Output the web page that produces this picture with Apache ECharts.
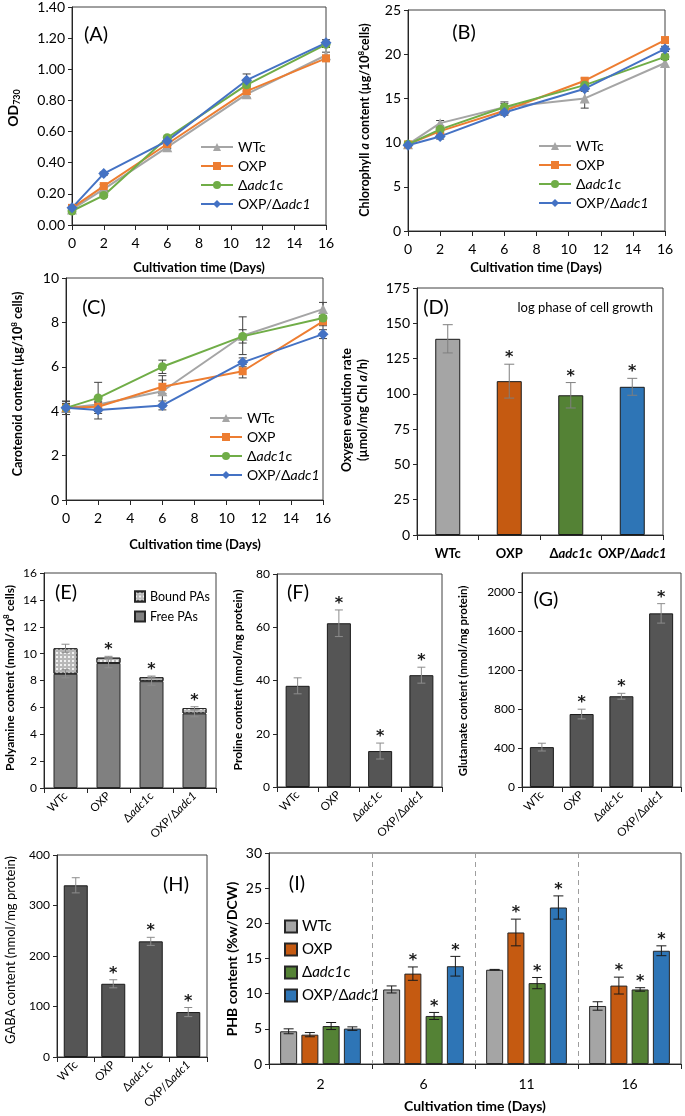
<!DOCTYPE html>
<html><head><meta charset="utf-8">
<script src="https://cdn.jsdelivr.net/npm/echarts@6/dist/echarts.min.js"></script>
<style>html,body{margin:0;padding:0;background:#fff}#c{width:685px;height:1116px}</style>
</head><body><div id="c"></div>
<script>
// ---------- DATA ----------
const days = [0, 2, 6, 11, 16];
const strains = ['WTc', 'OXP', 'Δadc1c', 'OXP/Δadc1'];
const xTicksLine = [0, 16, 2];            // min, max, interval for A-C day axes
// (A) OD730
const odWTc    = [0.10, 0.23, 0.50, 0.84, 1.09];
const odOXP    = [0.11, 0.25, 0.52, 0.86, 1.07];
const odADC    = [0.09, 0.19, 0.56, 0.90, 1.16];
const odOXPADC = [0.11, 0.33, 0.54, 0.93, 1.17];
const odErrWTc    = [0.01, 0.01, 0.01, 0.02, 0.02];
const odErrOXP    = [0.01, 0.01, 0.01, 0.02, 0.02];
const odErrADC    = [0.01, 0.01, 0.01, 0.02, 0.02];
const odErrOXPADC = [0.01, 0.01, 0.02, 0.04, 0.02];
// (B) Chlorophyll a
const chlWTc    = [9.8, 12.2, 14.0, 15.0, 19.0];
const chlOXP    = [9.8, 11.3, 13.6, 17.0, 21.6];
const chlADC    = [9.8, 11.5, 14.0, 16.5, 19.7];
const chlOXPADC = [9.7, 10.7, 13.4, 16.1, 20.6];
const chlErrWTc    = [0.3, 0.3, 0.6, 1.1, 0.4];
const chlErrOXP    = [0.3, 0.3, 0.3, 0.3, 0.3];
const chlErrADC    = [0.3, 0.3, 0.4, 0.3, 0.3];
const chlErrOXPADC = [0.3, 0.3, 0.3, 0.3, 0.3];
// (C) Carotenoid
const carWTc    = [4.15, 4.3, 4.9, 7.4, 8.6];
const carOXP    = [4.15, 4.2, 5.1, 5.8, 8.05];
const carADC    = [4.15, 4.6, 6.0, 7.37, 8.2];
const carOXPADC = [4.15, 4.05, 4.26, 6.2, 7.47];
const carErrWTc    = [0.3, 0.3, 0.7, 0.85, 0.3];
const carErrOXP    = [0.2, 0.2, 0.3, 0.3, 0.2];
const carErrADC    = [0.3, 0.7, 0.3, 0.3, 0.2];
const carErrOXPADC = [0.2, 0.4, 0.2, 0.2, 0.2];
// (D) Oxygen evolution rate
const o2Mean = [139, 109, 99, 105];
const o2Err  = [10, 12, 9, 6];
const o2Sig  = [0, 1, 1, 1];
// (E) Polyamines
const paFree     = [8.5, 9.3, 7.95, 5.55];
const paBound    = [1.9, 0.4, 0.3, 0.4];
const paFreeErr  = [0.3, 0.35, 0.3, 0.25];
const paTotalErr = [0.3, 0.1, 0.08, 0.1];
const paSig      = [0, 1, 1, 1];
// (F) Proline
const proMean = [38, 61.5, 13.5, 42];
const proErr  = [3, 5, 3, 3];
const proSig  = [0, 1, 1, 1];
// (G) Glutamate
const gluMean = [410, 750, 933, 1785];
const gluErr  = [40, 50, 30, 100];
const gluSig  = [0, 1, 1, 1];
// (H) GABA
const gabaMean = [340, 145, 229, 89];
const gabaErr  = [15, 8, 8, 9];
const gabaSig  = [0, 1, 1, 1];
// (I) PHB
const phbDays = ['2', '6', '11', '16'];
const phbWTc    = [4.65, 10.6, 13.4, 8.25];
const phbOXP    = [4.17, 12.85, 18.7, 11.15];
const phbADC    = [5.4, 6.83, 11.5, 10.6];
const phbOXPADC = [5.03, 13.9, 22.25, 16.1];
const phbErrWTc    = [0.35, 0.5, 0.05, 0.6];
const phbErrOXP    = [0.3, 0.95, 1.9, 1.2];
const phbErrADC    = [0.5, 0.5, 0.8, 0.25];
const phbErrOXPADC = [0.25, 1.4, 1.65, 0.7];
const phbSigWTc    = [0, 0, 0, 0];
const phbSigOXP    = [0, 1, 1, 1];
const phbSigADC    = [0, 1, 1, 1];
const phbSigOXPADC = [0, 1, 1, 1];

// ---------- STYLE ----------
const FONT = 'Lato, "Noto Sans", sans-serif';
const lineCol = ['#a5a5a5', '#ed7d31', '#70ad47', '#4472c4'];
const barCol = ['#a5a5a5', '#c55a11', '#548235', '#2e75b6'];
const symbols = ['triangle', 'rect', 'circle', 'diamond'];
const symSizes = [10, 8, 9, 11];
const AX = '#262626';

function richStyles(fs, weight) {
  const base = {fontSize: fs, fontFamily: FONT, fontWeight: weight, color: '#000'};
  return {
    n: Object.assign({}, base),
    i: Object.assign({}, base, {fontStyle: 'italic'}),
    sup: Object.assign({}, base, {fontSize: Math.round(fs * 0.65), verticalAlign: 'top'}),
    sub: Object.assign({}, base, {fontSize: Math.round(fs * 0.65), verticalAlign: 'bottom'})
  };
}
function richName(s) {
  return s.split('adc1').map(p => p ? '{n|' + p + '}' : '').join('{i|adc1}');
}

function errRender(off, cap, color) {
  return function (params, api) {
    const x = api.value(0), y = api.value(1), e = api.value(2), sig = api.value(3);
    const lo = api.coord([x, y - e]), hi = api.coord([x, y + e]);
    const cx = lo[0] + off;
    const st = {stroke: color, lineWidth: 1};
    const ch = [];
    if (e > 0) {
      ch.push({type: 'line', shape: {x1: cx, y1: lo[1], x2: cx, y2: hi[1]}, style: st});
      ch.push({type: 'line', shape: {x1: cx - cap, y1: hi[1], x2: cx + cap, y2: hi[1]}, style: st});
      ch.push({type: 'line', shape: {x1: cx - cap, y1: lo[1], x2: cx + cap, y2: lo[1]}, style: st});
    }
    if (sig) ch.push({type: 'text', style: {text: '*', x: cx, y: hi[1] + 2, align: 'center', verticalAlign: 'bottom', font: 'bold 16px "DejaVu Sans", ' + FONT, fill: '#1a1a1a'}});
    return {type: 'group', children: ch};
  };
}

// ---------- LAYOUT ----------
const grids = [
  {left: 72, top: 7, width: 254, height: 218},    // A
  {left: 408, top: 10, width: 257, height: 221},  // B
  {left: 66, top: 278, width: 257, height: 222},  // C
  {left: 417, top: 288, width: 246, height: 247}, // D
  {left: 44, top: 573, width: 172, height: 215},  // E
  {left: 277, top: 574, width: 165, height: 213}, // F
  {left: 522, top: 573, width: 159, height: 214}, // G
  {left: 57, top: 855, width: 150, height: 202},  // H
  {left: 269, top: 853, width: 412, height: 211}  // I
].map(g => Object.assign({show: true, borderColor: '#404040', borderWidth: 1, containLabel: false, outerBoundsMode: 'none'}, g));

const axLine = {show: true, lineStyle: {color: AX, width: 1}};
function valX(i) {
  return {type: 'value', gridIndex: i, min: xTicksLine[0], max: xTicksLine[1], interval: xTicksLine[2],
    axisLine: axLine, axisTick: {show: true, length: 5, lineStyle: {color: AX}},
    axisLabel: {fontFamily: FONT, fontSize: 14, color: '#000', margin: 11}, splitLine: {show: false}};
}
function valY(i, min, max, interval, fs, fmt) {
  return {type: 'value', gridIndex: i, min: min, max: max, interval: interval,
    axisLine: axLine, axisTick: {show: true, length: 4, lineStyle: {color: AX}},
    axisLabel: {fontFamily: FONT, fontSize: fs, color: '#000', margin: 7, formatter: fmt || (v => String(v)), showMaxLabel: max === 2200 ? false : true},
    splitLine: {show: false}};
}
function catX(i, data, opts) {
  return Object.assign({type: 'category', gridIndex: i, data: data,
    axisLine: axLine, axisTick: {show: true, length: 5, interval: 0, lineStyle: {color: AX}},
    splitLine: {show: false}}, opts);
}
const rotLabel = {interval: 0, rotate: 45, margin: 6, color: '#000', formatter: v => richName(v), rich: richStyles(11.5, 'normal')};

const xAxis = [
  valX(0), valX(1), valX(2),
  catX(3, strains, {axisLabel: {interval: 0, margin: 12, formatter: v => richName(v), rich: richStyles(13, 'bold')}}),
  catX(4, strains, {axisLabel: rotLabel}),
  catX(5, strains, {axisLabel: rotLabel}),
  catX(6, strains, {axisLabel: rotLabel}),
  catX(7, strains, {axisLabel: rotLabel}),
  catX(8, phbDays, {axisLabel: {interval: 0, fontFamily: FONT, fontSize: 14, color: '#000', margin: 13},
    splitLine: {show: true, interval: 0, lineStyle: {color: '#9e9e9e', type: [5, 4], width: 1}}})
];
const yAxis = [
  valY(0, 0, 1.4, 0.2, 14, v => v.toFixed(2)),
  valY(1, 0, 25, 5, 14),
  valY(2, 0, 10, 2, 14),
  valY(3, 0, 175, 25, 14),
  valY(4, 0, 16, 2, 12),
  valY(5, 0, 80, 20, 12),
  valY(6, 0, 2200, 400, 12),
  valY(7, 0, 400, 100, 12),
  valY(8, 0, 30, 5, 14)
];

// ---------- SERIES ----------
const series = [];
function addLines(panel, idx, arrs, errs) {
  arrs.forEach((arr, j) => {
    series.push({type: 'custom', xAxisIndex: idx, yAxisIndex: idx, silent: true, z: 2,
      data: days.map((d, k) => [d, arr[k], errs[j][k], 0]), encode: {x: 0, y: 1},
      renderItem: errRender(0, 4, '#404040')});
  });
  arrs.forEach((arr, j) => {
    series.push({type: 'line', name: panel + '|' + strains[j], xAxisIndex: idx, yAxisIndex: idx, z: 3,
      data: days.map((d, k) => [d, arr[k]]), symbol: symbols[j], symbolSize: symSizes[j],
      lineStyle: {color: lineCol[j], width: 2}, itemStyle: {color: lineCol[j]}});
  });
}
addLines('A', 0, [odWTc, odOXP, odADC, odOXPADC], [odErrWTc, odErrOXP, odErrADC, odErrOXPADC]);
addLines('B', 1, [chlWTc, chlOXP, chlADC, chlOXPADC], [chlErrWTc, chlErrOXP, chlErrADC, chlErrOXPADC]);
addLines('C', 2, [carWTc, carOXP, carADC, carOXPADC], [carErrWTc, carErrOXP, carErrADC, carErrOXPADC]);

// D
series.push({type: 'bar', xAxisIndex: 3, yAxisIndex: 3, barWidth: 25,
  data: o2Mean.map((v, k) => ({value: v, itemStyle: {color: barCol[k]}})),
  itemStyle: {borderColor: '#1a1a1a', borderWidth: 1}});
series.push({type: 'custom', xAxisIndex: 3, yAxisIndex: 3, silent: true, z: 5, encode: {x: 0, y: 1},
  data: o2Mean.map((v, k) => [k, v, o2Err[k], o2Sig[k]]), renderItem: errRender(0, 5, '#7f7f7f')});

// E
series.push({type: 'bar', name: 'Free PAs', stack: 'pa', xAxisIndex: 4, yAxisIndex: 4, barWidth: 24, data: paFree,
  itemStyle: {color: '#808080', borderColor: '#262626', borderWidth: 1}});
series.push({type: 'bar', name: 'Bound PAs', stack: 'pa', xAxisIndex: 4, yAxisIndex: 4, barWidth: 24, data: paBound,
  itemStyle: {color: '#b8b8b8', borderColor: '#262626', borderWidth: 1,
    decal: {symbol: 'rect', symbolSize: 0.9, color: 'rgba(255,255,255,0.9)', dashArrayX: [2, 2], dashArrayY: [2, 2], rotation: 0}}});
series.push({type: 'custom', xAxisIndex: 4, yAxisIndex: 4, silent: true, z: 5, encode: {x: 0, y: 1},
  data: paFree.map((v, k) => [k, v, paFreeErr[k], 0]).concat(paFree.map((v, k) => [k, v + paBound[k], paTotalErr[k], paSig[k]])),
  renderItem: errRender(0, 4, '#8c8c8c')});

// F, G, H
[[5, proMean, proErr, proSig], [6, gluMean, gluErr, gluSig], [7, gabaMean, gabaErr, gabaSig]].forEach(p => {
  const [idx, mean, err, sig] = p;
  series.push({type: 'bar', xAxisIndex: idx, yAxisIndex: idx, barWidth: 24, data: mean,
    itemStyle: {color: '#555555', borderColor: '#1a1a1a', borderWidth: 1}});
  series.push({type: 'custom', xAxisIndex: idx, yAxisIndex: idx, silent: true, z: 5, encode: {x: 0, y: 1},
    data: mean.map((v, k) => [k, v, err[k], sig[k]]), renderItem: errRender(0, 4, '#8c8c8c')});
});

// I
const phbSets = [[phbWTc, phbErrWTc, phbSigWTc], [phbOXP, phbErrOXP, phbSigOXP], [phbADC, phbErrADC, phbSigADC], [phbOXPADC, phbErrOXPADC, phbSigOXPADC]];
const IBW = 17, IGAP = 0.25;
phbSets.forEach((s, j) => {
  series.push({type: 'bar', name: 'I|' + strains[j], xAxisIndex: 8, yAxisIndex: 8, barWidth: IBW, barGap: (IGAP * 100) + '%',
    data: s[0], itemStyle: {color: barCol[j], borderColor: '#262626', borderWidth: 1}});
});
phbSets.forEach((s, j) => {
  const total = 4 * IBW + 3 * IGAP * IBW;
  const off = -total / 2 + IBW / 2 + j * IBW * (1 + IGAP);
  series.push({type: 'custom', xAxisIndex: 8, yAxisIndex: 8, silent: true, z: 5, encode: {x: 0, y: 1},
    data: s[0].map((v, k) => [k, v, s[1][k], s[2][k]]), renderItem: errRender(off, 5, '#1a1a1a')});
});

// ---------- LEGENDS ----------
function lineLegend(panel, left, top) {
  return {orient: 'vertical', left: left, top: top, itemWidth: 32, itemHeight: 10, itemGap: 5,
    data: strains.map(s => panel + '|' + s), formatter: n => richName(n.slice(2)),
    textStyle: {fontSize: 14, fontFamily: FONT, rich: richStyles(14, 'normal')}, selectedMode: false};
}
const legend = [
  lineLegend('A', 195, 135),
  lineLegend('B', 533, 134),
  lineLegend('C', 204, 406),
  {orient: 'vertical', left: 129, top: 585, itemWidth: 10, itemHeight: 10, itemGap: 7, icon: 'rect', selectedMode: false,
    data: ['Bound PAs', 'Free PAs'], textStyle: {fontSize: 12.5, fontFamily: FONT, color: '#000'}},
  {orient: 'vertical', left: 279, top: 914, itemWidth: 12, itemHeight: 12, itemGap: 8, icon: 'rect', selectedMode: false,
    data: strains.map(s => 'I|' + s), formatter: n => richName(n.slice(2)),
    textStyle: {fontSize: 15, fontFamily: FONT, rich: richStyles(15, 'normal')}}
];

// ---------- TEXTS ----------
function txt(x, y, text, fs, weight, opts) {
  return Object.assign({type: 'text', x: x, y: y, silent: true, style: {text: text,
    font: (weight === 'bold' ? 'bold ' : '') + fs + 'px ' + FONT, fill: '#000', align: 'center', verticalAlign: 'middle',
    rich: richStyles(fs, weight), lineHeight: fs + 3}}, opts || {});
}
function vtxt(x, y, text, fs, weight) { return txt(x, y, text, fs, weight, {rotation: Math.PI / 2}); }
const graphic = [
  txt(96, 35, '(A)', 20, 'normal'), txt(464, 33, '(B)', 20, 'normal'), txt(94, 308, '(C)', 20, 'normal'),
  txt(436, 308, '(D)', 20, 'normal'), txt(66, 593, '(E)', 20, 'normal'), txt(298, 593, '(F)', 20, 'normal'),
  txt(546, 600, '(G)', 20, 'normal'), txt(176, 885, '(H)', 20, 'normal'), txt(297, 884, '(I)', 20, 'normal'),
  txt(653, 308, 'log phase of cell growth', 13, 'normal', {}),
  txt(199, 268, 'Cultivation time (Days)', 13, 'bold'),
  txt(536, 268, 'Cultivation time (Days)', 13, 'bold'),
  txt(195, 545, 'Cultivation time (Days)', 13, 'bold'),
  txt(475, 1106, 'Cultivation time (Days)', 14, 'bold'),
  vtxt(13, 108, 'OD{sub|730}', 14, 'bold'),
  vtxt(365, 120, 'Chlorophyll {i|a} content (µg/10{sup|8}cells)', 12.5, 'bold'),
  vtxt(18, 384, 'Carotenoid content (µg/10{sup|8} cells)', 12.5, 'bold'),
  vtxt(355, 410, 'Oxygen evolution rate\n(µmol/mg Chl {i|a}/h)', 12.5, 'bold'),
  vtxt(10, 678, 'Polyamine content (nmol/10{sup|8} cells)', 12, 'bold'),
  vtxt(238, 680, 'Proline content (nmol/mg protein)', 12, 'bold'),
  vtxt(463, 681, 'Glutamate content (nmol/mg protein)', 11.5, 'bold'),
  vtxt(11, 950, 'GABA content (nmol/mg protein)', 13, 'normal'),
  vtxt(232, 959, 'PHB content (%w/DCW)', 14, 'bold')
];
graphic[9].style.align = 'right';

const chart = echarts.init(document.getElementById('c'));
chart.setOption({animation: false, backgroundColor: '#fff', grid: grids, xAxis: xAxis, yAxis: yAxis,
  series: series, legend: legend, graphic: graphic, tooltip: {show: false}});
</script></body></html>
